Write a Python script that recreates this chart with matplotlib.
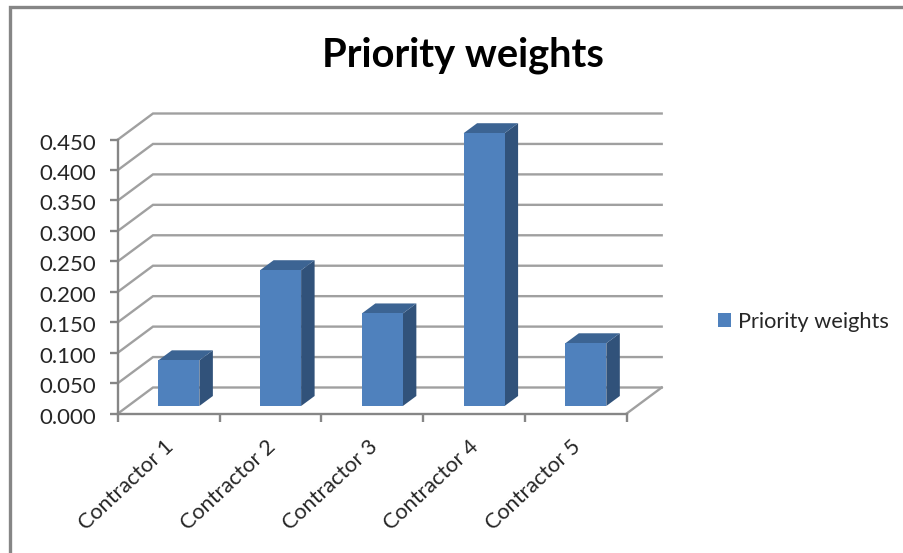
import matplotlib
matplotlib.use("Agg")
import matplotlib.pyplot as plt
from matplotlib.lines import Line2D
from matplotlib.patches import Polygon
from matplotlib.transforms import Affine2D

plt.rcParams["font.family"] = ["Lato", "DejaVu Sans"]

categories = ["Contractor 1", "Contractor 2", "Contractor 3", "Contractor 4", "Contractor 5"]
priority_weights = [0.075, 0.223, 0.152, 0.448, 0.103]
series_name = "Priority weights"
y_ticks = [0.0, 0.05, 0.10, 0.15, 0.20, 0.25, 0.30, 0.35, 0.40, 0.45]

FRONT = "#4F81BD"
SIDE = "#31527A"
TOP = "#3C6493"
AXIS = "#868686"
GRID = "#A0A0A0"
TEXT = "#262626"

W, H = 904, 553
fig = plt.figure(figsize=(W / 100, H / 100), dpi=100, facecolor="white")

# Front plane of the 3-D box, placed in pixels
left, right, y0, y45 = 118.0, 626.7, 413.5, 139.5
ax = fig.add_axes([left / W, 1 - y0 / H, (right - left) / W, (y0 - y45) / H])
ax.set_xlim(-0.5, 4.5)
ax.set_ylim(0, 0.45)
ax.patch.set_visible(False)

px_x = (right - left) / 5       # pixels per category
px_y = (y0 - y45) / 0.45        # pixels per unit of weight


def shift(x, y, dx_px, dy_px):
    """Move a data point by a screen offset (dy_px upward)."""
    return x + dx_px / px_x, y + dy_px / px_y


# Depth of the box and of the bars, in pixels
box_dx, box_dy = 35.0, 26.0
bar_front_dx, bar_front_dy = 10.0, 7.5
bar_dx, bar_dy = 13.5, 10.0
bar_width = 41.0 / px_x

# Gridlines: a diagonal on the left wall, then across the back wall
for t in y_ticks:
    bx, by = shift(-0.5, t, box_dx, box_dy)
    ex, ey = shift(4.5, t, box_dx, box_dy)
    ax.plot([-0.5, bx, ex], [t, by, ey], color=GRID, lw=1.7,
            clip_on=False, zorder=1, solid_joinstyle="miter")

# Right-hand floor edge
fx, fy = shift(4.5, 0, box_dx, box_dy)
ax.plot([4.5, fx], [0, fy], color=GRID, lw=1.7, clip_on=False, zorder=1)

# Bars with their side and top faces
front_faces = []
for i, v in enumerate(priority_weights):
    x0, base = shift(i - bar_width / 2, 0, bar_front_dx, bar_front_dy)
    x1 = x0 + bar_width
    top = base + v
    side_pts = [(x1, base), shift(x1, base, bar_dx, bar_dy),
                shift(x1, top, bar_dx, bar_dy), (x1, top)]
    top_pts = [(x0, top), (x1, top), shift(x1, top, bar_dx, bar_dy),
               shift(x0, top, bar_dx, bar_dy)]
    ax.add_patch(Polygon(side_pts, closed=True, fc=SIDE, ec="none", clip_on=False, zorder=3))
    ax.add_patch(Polygon(top_pts, closed=True, fc=TOP, ec="none", clip_on=False, zorder=3))
    front_faces.append(ax.bar(x0, v, width=bar_width, bottom=base, align="edge",
                              color=FRONT, clip_on=False, zorder=4,
                              label=series_name if i == 0 else None))

# Axes
for name, spine in ax.spines.items():
    spine.set_visible(name in ("left", "bottom"))
    spine.set_color(AXIS)
    spine.set_linewidth(1.7)
    spine.set_zorder(2)

ax.set_yticks(y_ticks)
ax.set_yticklabels([f"{t:.3f}" for t in y_ticks])
ax.tick_params(axis="y", length=5.5, width=1.7, color=AXIS, labelsize=16,
               labelcolor=TEXT, pad=10.5)
# The value labels sit slightly below their ticks
for label in ax.get_yticklabels():
    label.set_transform(label.get_transform() + Affine2D().translate(0, -2))

ax.set_xticks([i - 0.5 for i in range(len(categories) + 1)])
ax.set_xticklabels([])
ax.tick_params(axis="x", which="major", length=5.5, width=1.7, color=AXIS)
ax.set_xticks(range(len(categories)), minor=True)
ax.set_xticklabels(categories, minor=True, rotation=43, ha="right", va="center",
                   rotation_mode="anchor", fontsize=15.6, color=TEXT)
ax.tick_params(axis="x", which="minor", length=0, pad=22)
for label in ax.get_xticklabels(minor=True):
    label.set_transform(label.get_transform() + Affine2D().translate(2, 0))

# Title and legend
fig.text(463 / W, 1 - 55.5 / H, series_name, ha="center", va="center",
         fontsize=28.7, fontweight="bold", color="black")
ax.legend(loc="center left", bbox_to_anchor=(718 / W, 1 - 322 / H),
          bbox_transform=fig.transFigure, frameon=False, fontsize=15.7,
          handlelength=0.61, handleheight=0.61, handletextpad=0.3,
          borderpad=0, borderaxespad=0, labelcolor=TEXT)

# Chart frame, visible along the top and left
fig.add_artist(Line2D([10 / W, 10 / W, 1], [0, 1 - 6.5 / H, 1 - 6.5 / H],
                      transform=fig.transFigure, color=AXIS, lw=2.4,
                      solid_joinstyle="miter"))

fig.savefig("out.png", dpi=100, facecolor="white")
